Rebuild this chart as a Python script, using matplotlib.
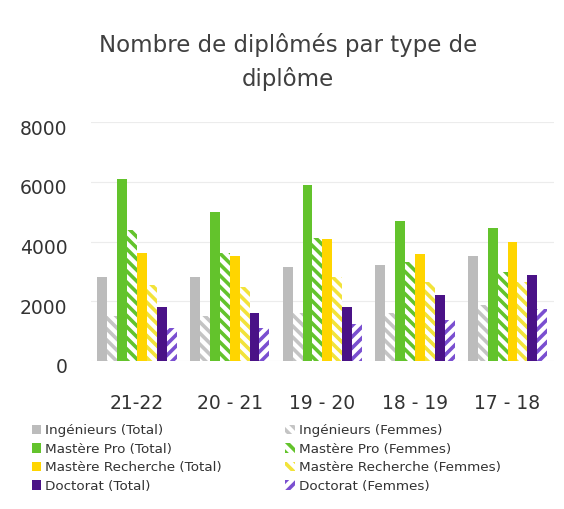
import numpy as np
import matplotlib
matplotlib.use("Agg")
import matplotlib.pyplot as plt
from matplotlib.transforms import ScaledTranslation

years = ["21-22", "20 - 21", "19 - 20", "18 - 19", "17 - 18"]

ing_total = [2800, 2800, 3150, 3200, 3500]
ing_femmes = [1500, 1500, 1600, 1600, 1870]
mp_total = [6100, 5000, 5900, 4700, 4450]
mp_femmes = [4400, 3600, 4130, 3300, 2970]
mr_total = [3600, 3500, 4100, 3570, 3970]
mr_femmes = [2530, 2470, 2800, 2630, 2630]
doc_total = [1800, 1600, 1800, 2200, 2870]
doc_femmes = [1100, 1100, 1230, 1370, 1730]

plt.rcParams["font.family"] = ["DejaVu Sans"]
plt.rcParams["hatch.linewidth"] = 2.6

fig = plt.figure(figsize=(5.64, 5.09), dpi=100)
ax = fig.add_axes([0.161, 0.291, 0.821, 0.469])

colors = ["#bcbcbc", "#63c32c", "#ffd500", "#4a1287"]
hatch_colors = ["#c4c4c4", "#63c32c", "#f2e33a", "#7a4fd0"]
names = ["Ingénieurs", "Mastère Pro", "Mastère Recherche", "Doctorat"]
totals = [ing_total, mp_total, mr_total, doc_total]
femmes = [ing_femmes, mp_femmes, mr_femmes, doc_femmes]
hatches = ["\\" * 3, "\\" * 3, "\\" * 3, "/" * 3]

x = np.arange(len(years))
w = 0.107
tot_handles = []
fem_handles = []
for i in range(4):
    pos_t = x - 4 * w + (2 * i + 0.5) * w
    pos_f = pos_t + w
    bt = ax.bar(pos_t, totals[i], w, color=colors[i], linewidth=0,
                label=names[i] + " (Total)", zorder=2)
    bf = ax.bar(pos_f, femmes[i], w, facecolor="white", edgecolor=hatch_colors[i],
                hatch=hatches[i], linewidth=0, label=names[i] + " (Femmes)", zorder=2)
    tot_handles.append(bt)
    fem_handles.append(bf)

ax.set_xlim(-0.5, len(years) - 0.5)
ax.set_ylim(0, 8000)
ax.set_yticks([0, 2000, 4000, 6000, 8000])
ax.set_xticks(x)
ax.set_xticklabels(years)
ax.tick_params(axis="both", length=0, labelsize=13.5, colors="#333333")
ax.tick_params(axis="y", pad=17)
ax.tick_params(axis="x", pad=24)
ax.grid(axis="y", color="#ececec", linewidth=0.8, zorder=0)
for s in ax.spines.values():
    s.set_visible(False)
shift = ScaledTranslation(0, -5 / 100, fig.dpi_scale_trans)
for lbl in ax.get_yticklabels():
    lbl.set_transform(lbl.get_transform() + shift)

fig.text(0.51, 0.935, "Nombre de diplômés par type de\ndiplôme", ha="center", va="top",
         fontsize=16.5, color="#404040", linespacing=1.5)

fig.legend(tot_handles + fem_handles,
           [h.get_label() for h in tot_handles + fem_handles],
           ncol=2, loc="upper left", bbox_to_anchor=(0.035, 0.19),
           frameon=False, fontsize=9.7, handlelength=0.7, handleheight=0.7,
           handletextpad=0.3, labelspacing=0.4, columnspacing=4.7,
           labelcolor="#333333")

fig.savefig("out.png", dpi=100)
